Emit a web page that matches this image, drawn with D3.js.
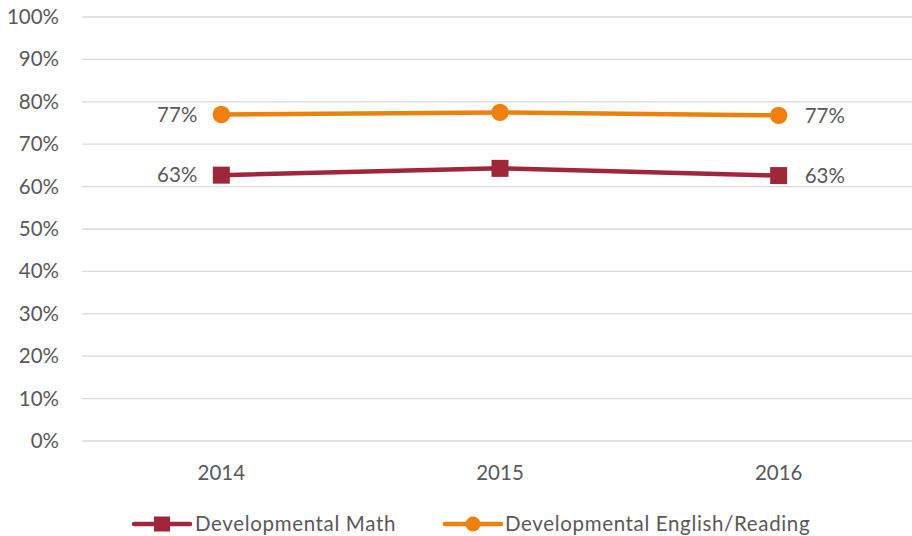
<!DOCTYPE html>
<html>
<head>
<meta charset="utf-8">
<script src="https://cdn.jsdelivr.net/npm/d3@7"></script>
<style>
  body { margin: 0; background: #fff; }
  svg text { font-family: Lato, "Open Sans", sans-serif; fill: #595959; }
</style>
</head>
<body>
<div id="chart"></div>
<script>
const years = ["2014", "2015", "2016"];
const mathVals = [0.627, 0.643, 0.626];
const englishVals = [0.770, 0.775, 0.768];
const yTicks = [0, 0.1, 0.2, 0.3, 0.4, 0.5, 0.6, 0.7, 0.8, 0.9, 1.0];

const series = [
  { name: "Developmental Math", values: mathVals, color: "#A0273A", shape: "square" },
  { name: "Developmental English/Reading", values: englishVals, color: "#F0800E", shape: "circle" }
];

const W = 912, H = 536;
const margin = { top: 17, right: 0, bottom: 95, left: 82 };
const plotW = 836, plotH = 424;
const fontSize = "20.5px";

const svg = d3.select("#chart").append("svg")
  .attr("width", W).attr("height", H);

const g = svg.append("g").attr("transform", `translate(${margin.left},${margin.top})`);

const x = d3.scaleBand().domain(years).range([0, plotW]);
const y = d3.scaleLinear().domain([0, 1]).range([plotH, 0]);

// gridlines
g.selectAll(".grid").data(yTicks).enter().append("line")
  .attr("x1", 0).attr("x2", plotW)
  .attr("y1", d => y(d)).attr("y2", d => y(d))
  .attr("stroke", "#d9d9d9").attr("stroke-width", 1.3);

// y labels
const yAxis = d3.axisLeft(y).tickValues(yTicks).tickFormat(d3.format(".0%")).tickSize(0).tickPadding(23);
g.append("g").call(yAxis).call(a => a.select(".domain").remove())
  .selectAll("text").style("font-size", fontSize).attr("fill", "#595959");

// x labels
const xAxis = d3.axisBottom(x).tickSize(0).tickPadding(24);
g.append("g").attr("transform", `translate(0,${plotH})`).call(xAxis)
  .call(a => a.select(".domain").remove())
  .selectAll("text").style("font-size", fontSize).attr("fill", "#595959");

const line = d3.line().x((d, i) => x(years[i]) + x.bandwidth() / 2).y(d => y(d));

series.forEach(s => {
  g.append("path").datum(s.values)
    .attr("d", line).attr("fill", "none")
    .attr("stroke", s.color).attr("stroke-width", 4.5);
  const pts = g.selectAll(null).data(s.values).enter();
  if (s.shape === "square") {
    pts.append("rect")
      .attr("x", (d, i) => x(years[i]) + x.bandwidth() / 2 - 8.5)
      .attr("y", d => y(d) - 8.5)
      .attr("width", 17).attr("height", 17).attr("fill", s.color);
  } else {
    pts.append("circle")
      .attr("cx", (d, i) => x(years[i]) + x.bandwidth() / 2)
      .attr("cy", d => y(d)).attr("r", 8.7).attr("fill", s.color);
  }
  // data labels at first and last point
  [0, s.values.length - 1].forEach(i => {
    const first = i === 0;
    g.append("text")
      .attr("x", x(years[i]) + x.bandwidth() / 2 + (first ? -24 : 26))
      .attr("y", y(s.values[i]))
      .attr("dy", "0.35em")
      .attr("text-anchor", first ? "end" : "start")
      .style("font-size", fontSize)
      .text(d3.format(".0%")(s.values[i]));
  });
});

// legend
const legend = svg.append("g").attr("transform", `translate(0,524)`);
const legendPos = [134, 445];
series.forEach((s, i) => {
  const lg = legend.append("g").attr("transform", `translate(${legendPos[i]},0)`);
  lg.append("line").attr("x1", 0).attr("x2", 56).attr("y1", 0).attr("y2", 0)
    .attr("stroke", s.color).attr("stroke-width", 4.5).attr("stroke-linecap", "round");
  if (s.shape === "square") {
    lg.append("rect").attr("x", 20).attr("y", -7.5).attr("width", 16).attr("height", 15).attr("fill", s.color);
  } else {
    lg.append("circle").attr("cx", 28).attr("cy", 0).attr("r", 7.5).attr("fill", s.color);
  }
  lg.append("text").attr("x", i === 0 ? 61 : 60).attr("y", 0).attr("dy", "0.35em")
    .style("font-size", fontSize).style("letter-spacing", "0.65px").text(s.name);
});
</script>
</body>
</html>
